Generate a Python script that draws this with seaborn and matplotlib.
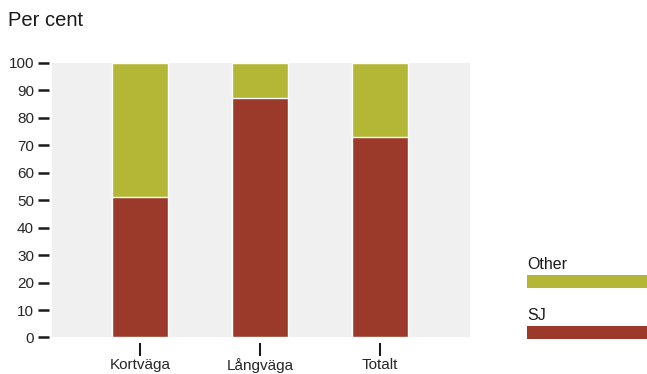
import matplotlib
matplotlib.use("Agg")
import matplotlib.pyplot as plt
import seaborn as sns
import pandas as pd
from matplotlib.patches import Rectangle

categories = ["Kortväga", "Långväga", "Totalt"]
sj_values = [51, 87, 73]
other_values = [49, 13, 27]
series_names = ["Other", "SJ"]
y_ticks = [0, 10, 20, 30, 40, 50, 60, 70, 80, 90, 100]

GREEN = "#b4b736"
RED = "#9b3a2a"
BG = "#f0f0f0"
TXT = "#1a1a1a"

sns.set_theme(style="white")
plt.rcParams['font.family'] = ['Liberation Sans', 'DejaVu Sans']

df = pd.DataFrame({
    "category": categories,
    "SJ": sj_values,
    "Other": other_values,
})
df["total"] = df["SJ"] + df["Other"]

fig = plt.figure(figsize=(6.47, 3.74), dpi=100)
ax = fig.add_axes([0.0804, 0.0976, 0.646, 0.7348])
ax.set_facecolor(BG)

sns.barplot(data=df, x="category", y="total", color=GREEN, width=0.467,
            edgecolor="white", linewidth=1.0, saturation=1, ax=ax)
sns.barplot(data=df, x="category", y="SJ", color=RED, width=0.467,
            edgecolor="white", linewidth=1.0, saturation=1, ax=ax)

ax.set_xlim(-0.733, 2.75)
ax.set_ylim(0, 100)
ax.set_yticks(y_ticks)
ax.set_yticklabels([str(v) for v in y_ticks])
ax.set_xticks(range(len(categories)))
ax.set_xticklabels(categories)
for lab in ax.get_yticklabels():
    lab.set_fontsize(10)
    lab.set_fontweight("bold")
    lab.set_color(TXT)
for lab in ax.get_xticklabels():
    lab.set_fontsize(10)
    lab.set_color(TXT)
ax.set_xlabel("")
ax.set_ylabel("")
for s in ax.spines.values():
    s.set_visible(False)
ax.spines['bottom'].set_position(('outward', 4))
ax.spines['left'].set_position(('outward', 2))
ax.tick_params(axis="y", left=True, length=8, width=1.8, color=TXT,
               pad=3, direction="out")
ax.tick_params(axis="x", bottom=True, length=9, width=1.5, color=TXT,
               pad=2, direction="out")
ax.grid(False)

fig.text(0.012, 0.945, "Per cent", fontsize=14.5, color=TXT, ha="left", va="center")

# legend on the right
colors = {"Other": GREEN, "SJ": RED}
legend_y = {"Other": (374 - 288) / 374, "SJ": (374 - 339) / 374}
for name in series_names:
    y0 = legend_y[name]
    fig.patches.append(Rectangle((527 / 647, y0), 120 / 647, 13 / 374,
                                 transform=fig.transFigure, facecolor=colors[name],
                                 edgecolor="none"))
    fig.text(527 / 647, y0 + 16 / 374, name, fontsize=11.5, color=TXT,
             ha="left", va="bottom")

fig.savefig("out.png", dpi=100)
